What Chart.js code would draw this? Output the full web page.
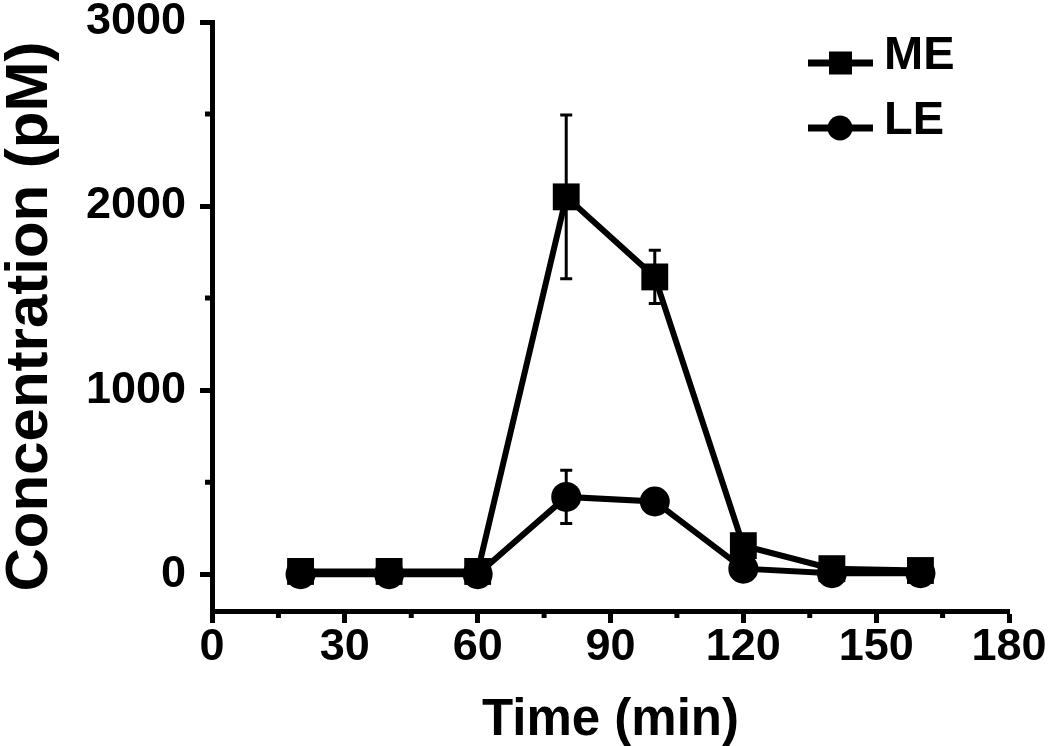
<!DOCTYPE html>
<html lang="en">
<head>
<meta charset="UTF-8" />
<title>ME / LE concentration</title>
<script src="https://cdn.jsdelivr.net/npm/chart.js"></script>
<style>
  body { margin: 0; background: #fff; }
  #wrap { width: 1050px; height: 746px; }
</style>
</head>
<body>
<div id="wrap"><canvas id="c" width="1050" height="746"></canvas></div>
<script>
// data
const times = [20, 40, 60, 80, 100, 120, 140, 160];
const meValues = [15, 15, 15, 2050, 1615, 155, 30, 20];
const meErrors = [0, 0, 0, 445, 145, 0, 0, 0];
const leValues = [0, 0, 0, 420, 395, 30, 5, 5];
const leErrors = [0, 0, 0, 145, 0, 0, 0, 0];
const xTicks = [0, 30, 60, 90, 120, 150, 180];
const yTicks = [0, 1000, 2000, 3000];
const xMinorTicks = [15, 45, 75, 105, 135, 165];
const yMinorTicks = [500, 1500, 2500];

const FONT = "'Liberation Sans', Arial, sans-serif";

const toPoints = vals => times.map((t, i) => ({ x: t, y: vals[i] }));

// error bars drawn through the scales
const errorBars = {
  id: 'errorBars',
  afterDatasetsDraw(chart) {
    const { ctx, scales: { x, y } } = chart;
    const sets = [[meValues, meErrors], [leValues, leErrors]];
    ctx.save();
    ctx.strokeStyle = '#000';
    ctx.lineWidth = 3;
    sets.forEach(([vals, errs]) => {
      times.forEach((t, i) => {
        if (!errs[i]) return;
        const px = x.getPixelForValue(t);
        const top = y.getPixelForValue(vals[i] + errs[i]);
        const bot = y.getPixelForValue(vals[i] - errs[i]);
        ctx.beginPath();
        ctx.moveTo(px, top); ctx.lineTo(px, bot);
        ctx.moveTo(px - 6, top); ctx.lineTo(px + 6, top);
        ctx.moveTo(px - 6, bot); ctx.lineTo(px + 6, bot);
        ctx.stroke();
      });
    });
    ctx.restore();
  }
};

// shorter minor ticks on both axes
const minorTicks = {
  id: 'minorTicks',
  afterDraw(chart) {
    const { ctx, chartArea: a, scales: { x, y } } = chart;
    ctx.save();
    ctx.strokeStyle = '#000';
    ctx.lineWidth = 5;
    ctx.beginPath();
    xMinorTicks.forEach(v => {
      const px = x.getPixelForValue(v);
      ctx.moveTo(px, a.bottom); ctx.lineTo(px, a.bottom + 7);
    });
    yMinorTicks.forEach(v => {
      const py = y.getPixelForValue(v);
      ctx.moveTo(a.left, py); ctx.lineTo(a.left - 7, py);
    });
    ctx.stroke();
    ctx.restore();
  }
};

// legend: line with marker, label to the right
const lineLegend = {
  id: 'lineLegend',
  afterDraw(chart) {
    const { ctx } = chart;
    const items = [
      { label: 'ME', style: 'rect', y: 63 },
      { label: 'LE', style: 'circle', y: 128 }
    ];
    ctx.save();
    ctx.fillStyle = '#000';
    ctx.strokeStyle = '#000';
    items.forEach(it => {
      ctx.lineWidth = 7;
      ctx.beginPath();
      ctx.moveTo(808, it.y); ctx.lineTo(873, it.y);
      ctx.stroke();
      ctx.beginPath();
      if (it.style === 'rect') ctx.rect(829, it.y - 11.5, 23, 23);
      else ctx.arc(840, it.y, 12.5, 0, Math.PI * 2);
      ctx.fill();
      ctx.font = 'bold 47px ' + FONT;
      ctx.textBaseline = 'middle';
      ctx.textAlign = 'left';
      ctx.fillText(it.label, 884, it.y - 7);
    });
    ctx.restore();
  }
};

new Chart(document.getElementById('c'), {
  type: 'line',
  data: {
    datasets: [
      {
        label: 'ME',
        data: toPoints(meValues),
        borderColor: '#000',
        backgroundColor: '#000',
        borderWidth: 6,
        pointStyle: 'rect',
        pointRadius: 19,
        pointBorderWidth: 0,
        tension: 0
      },
      {
        label: 'LE',
        data: toPoints(leValues),
        borderColor: '#000',
        backgroundColor: '#000',
        borderWidth: 6,
        pointStyle: 'circle',
        pointRadius: 15,
        pointBorderWidth: 0,
        tension: 0
      }
    ]
  },
  options: {
    responsive: false,
    animation: false,
    clip: false,
    layout: { padding: { top: 22, right: 41, left: 0, bottom: 0 } },
    plugins: { legend: { display: false }, tooltip: { enabled: false } },
    scales: {
      x: {
        type: 'linear',
        min: 0,
        max: 180,
        border: { color: '#000', width: 5 },
        grid: { drawOnChartArea: false, drawTicks: true, tickLength: 12, tickWidth: 5, tickColor: '#000' },
        ticks: { autoSkip: false, color: '#000', padding: -2, maxRotation: 0, callback: v => String(v), font: { family: FONT, size: 45, weight: 'bold' } },
        afterBuildTicks(s) { s.ticks = xTicks.map(v => ({ value: v })); },
        title: { display: true, text: 'Time (min)', color: '#000', padding: { top: 6, bottom: 0 }, font: { family: FONT, size: 51, weight: 'bold', lineHeight: 1 } },
        afterFit(s) { s.height = 135; s.paddingLeft = 0; s.paddingRight = 0; }
      },
      y: {
        min: -200,
        max: 3000,
        border: { color: '#000', width: 5 },
        grid: { drawOnChartArea: false, drawTicks: true, tickLength: 12, tickWidth: 5, tickColor: '#000' },
        ticks: { autoSkip: false, color: '#000', padding: 14, callback: v => String(v), font: { family: FONT, size: 45, weight: 'bold' } },
        afterBuildTicks(s) { s.ticks = yTicks.map(v => ({ value: v })); },
        title: { display: true, text: 'Concentration (pM)', color: '#000', padding: { top: 0, bottom: 0 }, font: { family: FONT, size: 60, weight: 'bold', lineHeight: 1 } },
        afterFit(s) { s.width = 212; s.paddingTop = 0; s.paddingBottom = 0; }
      }
    }
  },
  plugins: [errorBars, minorTicks, lineLegend]
});
</script>
</body>
</html>
